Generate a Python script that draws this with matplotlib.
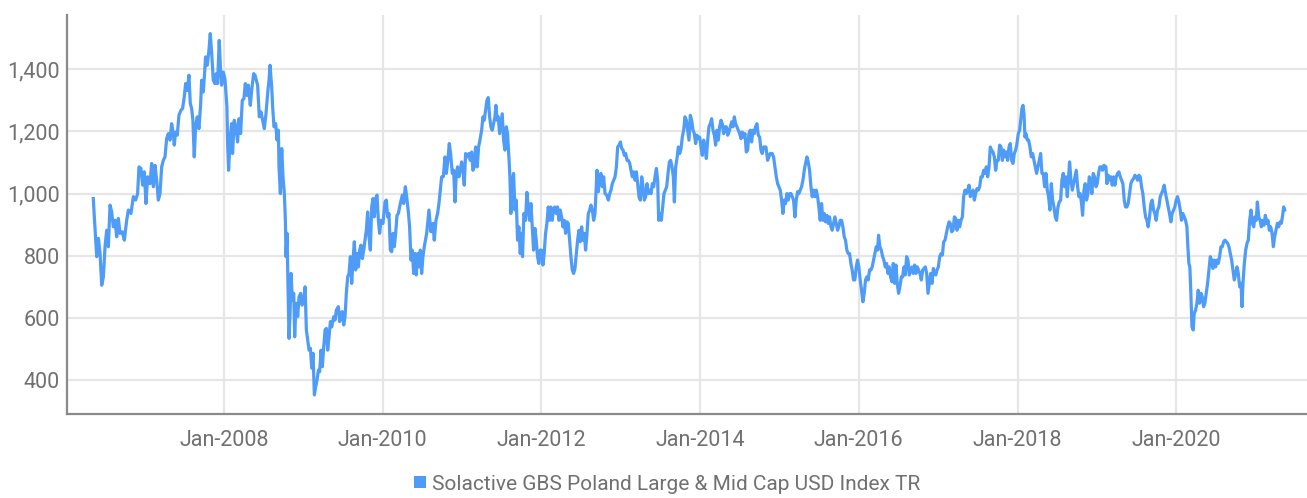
import datetime as dt
import matplotlib
matplotlib.use("Agg")
import matplotlib.pyplot as plt
import matplotlib.dates as mdates
from matplotlib.patches import Patch
from matplotlib.ticker import FuncFormatter, FixedLocator

plt.rcParams['font.family'] = ['Roboto', 'DejaVu Sans']

series_name = "Solactive GBS Poland Large & Mid Cap USD Index TR"

# decimal-year / value pairs, in segments
years_a = [2006.353, 2006.366, 2006.396, 2006.417, 2006.438, 2006.459, 2006.480, 2006.501, 2006.522, 2006.543,
           2006.564, 2006.585, 2006.606, 2006.627, 2006.648, 2006.669, 2006.690, 2006.719, 2006.744, 2006.774,
           2006.795, 2006.828, 2006.858, 2006.887, 2006.912, 2006.929, 2006.954, 2006.975, 2006.996, 2007.017,
           2007.038, 2007.068, 2007.089, 2007.110, 2007.131, 2007.152, 2007.173, 2007.194, 2007.215, 2007.236,
           2007.257, 2007.278, 2007.299, 2007.320, 2007.341, 2007.362, 2007.374, 2007.391, 2007.412, 2007.433,
           2007.458, 2007.479, 2007.500, 2007.517, 2007.538, 2007.559, 2007.576, 2007.593, 2007.609, 2007.626,
           2007.643, 2007.664, 2007.685, 2007.706, 2007.719, 2007.740, 2007.752, 2007.769, 2007.790, 2007.811,
           2007.828, 2007.845, 2007.866, 2007.887, 2007.903, 2007.920, 2007.941, 2007.958, 2007.971, 2007.992,
           2008.013, 2008.038, 2008.046, 2008.059, 2008.080, 2008.097, 2008.109, 2008.130, 2008.151, 2008.172,
           2008.189, 2008.210, 2008.231, 2008.252, 2008.269, 2008.290, 2008.307, 2008.332, 2008.349, 2008.374]
values_a = [984, 925, 797, 856, 807, 705, 732, 829, 882, 829,
            963, 941, 893, 914, 861, 920, 872, 877, 850, 914,
            947, 936, 990, 979, 1000, 1086, 1081, 1027, 1070, 968,
            1054, 1032, 1097, 1022, 1091, 1043, 979, 1000, 1086, 1107,
            1118, 1177, 1193, 1172, 1225, 1193, 1156, 1198, 1188, 1252,
            1268, 1274, 1311, 1354, 1332, 1381, 1290, 1274, 1236, 1118,
            1215, 1247, 1209, 1284, 1365, 1327, 1370, 1440, 1413, 1461,
            1515, 1456, 1365, 1354, 1386, 1354, 1493, 1397, 1349, 1391,
            1370, 1279, 1166, 1075, 1182, 1225, 1129, 1236, 1215, 1166,
            1241, 1193, 1300, 1306, 1354, 1316, 1349, 1284, 1332, 1386]

years_b = [2008.391, 2008.424, 2008.445, 2008.466, 2008.487, 2008.508, 2008.529, 2008.550, 2008.567, 2008.580,
           2008.601, 2008.613, 2008.630, 2008.651, 2008.668, 2008.685, 2008.693, 2008.710, 2008.727, 2008.743,
           2008.760, 2008.773, 2008.781, 2008.794, 2008.806, 2008.819, 2008.832, 2008.844, 2008.861, 2008.878,
           2008.890, 2008.907, 2008.928, 2008.945, 2008.966, 2008.983, 2009.004, 2009.021, 2009.037, 2009.054,
           2009.071, 2009.088, 2009.105, 2009.121, 2009.138, 2009.155, 2009.172, 2009.189, 2009.205, 2009.222,
           2009.239, 2009.256, 2009.273, 2009.289, 2009.306, 2009.323, 2009.340, 2009.357, 2009.382, 2009.399,
           2009.415, 2009.441, 2009.457, 2009.474, 2009.491, 2009.508, 2009.525, 2009.541, 2009.558, 2009.575,
           2009.592, 2009.609, 2009.625, 2009.642, 2009.659, 2009.676, 2009.693, 2009.709, 2009.726, 2009.743,
           2009.760, 2009.777, 2009.793, 2009.810, 2009.827, 2009.844, 2009.861, 2009.877, 2009.894, 2009.911,
           2009.928, 2009.945, 2009.961, 2009.978, 2010.003, 2010.029, 2010.045, 2010.062, 2010.079, 2010.096,
           2010.113, 2010.129, 2010.146, 2010.163, 2010.180, 2010.197, 2010.222, 2010.247, 2010.264, 2010.285,
           2010.302, 2010.323, 2010.339, 2010.356, 2010.373, 2010.390, 2010.407, 2010.423, 2010.440, 2010.457,
           2010.474, 2010.491, 2010.507, 2010.524]
values_b = [1381, 1349, 1247, 1263, 1236, 1209, 1257, 1322, 1365, 1413,
            1343, 1279, 1215, 1225, 1172, 1204, 1086, 1000, 1145, 1054,
            1000, 914, 797, 872, 700, 534, 614, 743, 657, 679,
            539, 647, 604, 668, 679, 641, 657, 700, 561, 529,
            496, 502, 438, 486, 352, 379, 400, 432, 427, 496,
            443, 507, 561, 566, 496, 539, 588, 571, 604, 593,
            625, 636, 588, 614, 620, 577, 604, 679, 732, 743,
            797, 711, 786, 845, 754, 807, 764, 818, 834, 791,
            818, 850, 882, 941, 861, 818, 957, 984, 925, 984,
            995, 914, 872, 914, 904, 973, 979, 925, 936, 818,
            813, 872, 829, 872, 930, 936, 968, 995, 968, 1022,
            990, 941, 893, 786, 818, 743, 807, 738, 807, 764,
            818, 743, 797, 829]

years_c = [2010.554, 2010.583, 2010.608, 2010.634, 2010.650, 2010.671, 2010.692, 2010.709, 2010.726, 2010.743,
           2010.764, 2010.785, 2010.802, 2010.818, 2010.839, 2010.856, 2010.877, 2010.894, 2010.911, 2010.928,
           2010.944, 2010.961, 2010.978, 2010.995, 2011.012, 2011.028, 2011.045, 2011.066, 2011.087, 2011.104,
           2011.121, 2011.138, 2011.154, 2011.171, 2011.192, 2011.209, 2011.226, 2011.247, 2011.264, 2011.280,
           2011.297, 2011.314, 2011.331, 2011.348, 2011.364, 2011.381, 2011.398, 2011.415, 2011.427, 2011.444,
           2011.457, 2011.474, 2011.490, 2011.507, 2011.524, 2011.541, 2011.558, 2011.574, 2011.591, 2011.604,
           2011.616, 2011.633, 2011.650, 2011.667, 2011.684, 2011.700, 2011.717, 2011.734, 2011.751, 2011.763,
           2011.780, 2011.801, 2011.818, 2011.835, 2011.852, 2011.869, 2011.885, 2011.902, 2011.919, 2011.936,
           2011.952, 2011.969, 2011.986, 2012.003, 2012.020, 2012.036, 2012.053, 2012.070, 2012.087, 2012.104,
           2012.120, 2012.137, 2012.154, 2012.171, 2012.188, 2012.204, 2012.221, 2012.238, 2012.255, 2012.272,
           2012.288, 2012.305, 2012.322, 2012.339, 2012.356, 2012.372, 2012.389, 2012.406, 2012.423, 2012.440,
           2012.456, 2012.473, 2012.490, 2012.507, 2012.524, 2012.540, 2012.557, 2012.574, 2012.591, 2012.608,
           2012.624, 2012.641, 2012.658]
values_c = [872, 947, 877, 904, 850, 914, 936, 968, 1011, 1054,
            1054, 1118, 1065, 1097, 1161, 1129, 1065, 1075, 973, 1065,
            1086, 1054, 1075, 1102, 1075, 1027, 1129, 1118, 1129, 1107,
            1134, 1075, 1086, 1150, 1086, 1150, 1172, 1204, 1247, 1236,
            1268, 1300, 1309, 1247, 1215, 1204, 1225, 1247, 1284, 1236,
            1247, 1193, 1225, 1257, 1172, 1140, 1215, 1193, 1118, 1054,
            936, 1032, 1065, 947, 979, 850, 893, 807, 872, 797,
            936, 914, 1004, 957, 914, 968, 893, 818, 888, 850,
            797, 775, 818, 818, 770, 807, 872, 904, 957, 914,
            957, 914, 952, 957, 936, 957, 914, 947, 925, 893,
            914, 872, 909, 904, 850, 797, 754, 743, 759, 807,
            850, 882, 845, 893, 850, 872, 818, 872, 936, 947,
            963, 947, 914]

years_d = [2012.675, 2012.700, 2012.717, 2012.734, 2012.750, 2012.767, 2012.784, 2012.801, 2012.822, 2012.843,
           2012.860, 2012.876, 2012.893, 2012.910, 2012.927, 2012.944, 2012.960, 2012.977, 2012.994, 2013.011,
           2013.028, 2013.044, 2013.061, 2013.078, 2013.095, 2013.112, 2013.128, 2013.145, 2013.162, 2013.179,
           2013.196, 2013.212, 2013.229, 2013.246, 2013.263, 2013.280, 2013.296, 2013.313, 2013.330, 2013.347,
           2013.364, 2013.380, 2013.397, 2013.414, 2013.431, 2013.448, 2013.464, 2013.477, 2013.494, 2013.511,
           2013.528, 2013.544, 2013.561, 2013.578, 2013.595, 2013.612, 2013.628, 2013.645, 2013.662, 2013.675,
           2013.691, 2013.708, 2013.725, 2013.742, 2013.759, 2013.775, 2013.792, 2013.809, 2013.826, 2013.843,
           2013.859, 2013.876, 2013.893, 2013.910, 2013.927, 2013.943, 2013.960, 2013.977, 2013.994, 2014.011,
           2014.027, 2014.044, 2014.061, 2014.078, 2014.095, 2014.111, 2014.128, 2014.145, 2014.162, 2014.179,
           2014.195, 2014.212, 2014.229, 2014.246, 2014.263, 2014.279, 2014.296, 2014.313, 2014.330, 2014.347,
           2014.363, 2014.380, 2014.397, 2014.414, 2014.431, 2014.447, 2014.464, 2014.481, 2014.498, 2014.515,
           2014.531, 2014.548, 2014.565, 2014.582, 2014.599, 2014.615, 2014.632, 2014.649, 2014.666, 2014.683,
           2014.699, 2014.716, 2014.733, 2014.750, 2014.767, 2014.783, 2014.800]
values_d = [936, 1075, 1006, 1054, 1065, 1022, 1054, 1000, 995, 979,
            1000, 1011, 1032, 1043, 1054, 1086, 1150, 1156, 1166, 1145,
            1140, 1123, 1129, 1107, 1107, 1097, 1075, 1054, 1070, 1043,
            1070, 1032, 990, 979, 1054, 1022, 979, 990, 1032, 1000,
            1011, 1000, 1032, 1022, 1054, 1081, 1043, 914, 936, 914,
            957, 1000, 1011, 1022, 1065, 1102, 1107, 1086, 1054, 973,
            1086, 1113, 1150, 1129, 1145, 1182, 1204, 1247, 1236, 1204,
            1172, 1252, 1236, 1204, 1193, 1161, 1188, 1177, 1182, 1150,
            1123, 1172, 1150, 1113, 1172, 1215, 1225, 1241, 1204, 1188,
            1156, 1204, 1172, 1215, 1236, 1225, 1193, 1215, 1215, 1188,
            1198, 1215, 1231, 1215, 1247, 1225, 1215, 1204, 1193, 1177,
            1198, 1182, 1193, 1134, 1140, 1193, 1204, 1166, 1204, 1193,
            1215, 1225, 1188, 1182, 1140, 1129, 1150]

years_e = [2014.830, 2014.851, 2014.867, 2014.884, 2014.909, 2014.926, 2014.943, 2014.960, 2014.977, 2014.993,
           2015.010, 2015.027, 2015.044, 2015.061, 2015.077, 2015.094, 2015.111, 2015.128, 2015.145, 2015.161,
           2015.178, 2015.195, 2015.212, 2015.229, 2015.245, 2015.262, 2015.279, 2015.296, 2015.313, 2015.329,
           2015.346, 2015.363, 2015.380, 2015.397, 2015.413, 2015.430, 2015.447, 2015.464, 2015.481, 2015.497,
           2015.514, 2015.531, 2015.548, 2015.565, 2015.581, 2015.598, 2015.615, 2015.632, 2015.649, 2015.665,
           2015.682, 2015.699, 2015.716, 2015.733, 2015.749, 2015.766, 2015.783, 2015.800, 2015.817, 2015.833,
           2015.850, 2015.867, 2015.884, 2015.901, 2015.917, 2015.934, 2015.951, 2015.968, 2015.985, 2016.001,
           2016.018, 2016.035, 2016.052, 2016.069, 2016.085, 2016.102, 2016.119, 2016.136, 2016.153, 2016.169,
           2016.186, 2016.203, 2016.220, 2016.237, 2016.249, 2016.266, 2016.283, 2016.300, 2016.316, 2016.333,
           2016.350, 2016.367, 2016.384, 2016.400, 2016.417, 2016.434, 2016.451, 2016.468, 2016.484, 2016.501,
           2016.518, 2016.535, 2016.552, 2016.568, 2016.585, 2016.602, 2016.619, 2016.636, 2016.652, 2016.669,
           2016.686, 2016.703, 2016.720, 2016.736, 2016.753, 2016.770, 2016.787, 2016.804, 2016.820, 2016.837,
           2016.854, 2016.871, 2016.888, 2016.904, 2016.921, 2016.938, 2016.955]
values_e = [1150, 1107, 1118, 1129, 1129, 1118, 1086, 1054, 1032, 1022,
            1011, 979, 936, 979, 968, 1000, 979, 1000, 1000, 990,
            979, 925, 979, 1006, 1000, 1011, 1022, 1043, 1075, 1097,
            1118, 1102, 1075, 1022, 990, 1011, 990, 1011, 990, 957,
            914, 968, 914, 936, 909, 930, 904, 925, 893, 882,
            904, 925, 904, 882, 893, 914, 914, 893, 861, 850,
            818, 807, 807, 775, 754, 722, 722, 764, 786, 764,
            722, 689, 652, 679, 722, 732, 722, 754, 754, 764,
            786, 807, 829, 818, 866, 829, 818, 797, 786, 764,
            775, 743, 764, 732, 716, 775, 711, 770, 711, 679,
            700, 732, 732, 764, 738, 797, 786, 738, 754, 764,
            743, 770, 743, 764, 754, 743, 722, 754, 759, 764,
            743, 679, 711, 743, 711, 759, 743]

years_f = [2016.968, 2016.984, 2017.001, 2017.018, 2017.035, 2017.052, 2017.068, 2017.085, 2017.102, 2017.119,
           2017.136, 2017.152, 2017.169, 2017.186, 2017.203, 2017.220, 2017.236, 2017.253, 2017.270, 2017.287,
           2017.304, 2017.320, 2017.337, 2017.354, 2017.371, 2017.388, 2017.404, 2017.421, 2017.438, 2017.455,
           2017.472, 2017.488, 2017.505, 2017.522, 2017.539, 2017.556, 2017.572, 2017.589, 2017.606, 2017.623,
           2017.640, 2017.656, 2017.673, 2017.690, 2017.707, 2017.724, 2017.740, 2017.757, 2017.774, 2017.791,
           2017.808, 2017.824, 2017.841, 2017.858, 2017.875, 2017.892, 2017.908, 2017.925, 2017.942, 2017.959,
           2017.976, 2017.992, 2018.009, 2018.026, 2018.043, 2018.055, 2018.068, 2018.081, 2018.093, 2018.106,
           2018.123, 2018.139, 2018.156, 2018.173, 2018.190, 2018.207, 2018.223, 2018.240, 2018.257, 2018.274,
           2018.291, 2018.307, 2018.324, 2018.341, 2018.358, 2018.375, 2018.391, 2018.408, 2018.425, 2018.442,
           2018.459, 2018.475, 2018.492, 2018.509, 2018.526, 2018.543, 2018.559, 2018.576, 2018.593, 2018.610,
           2018.627, 2018.643, 2018.656, 2018.673, 2018.690, 2018.706, 2018.723, 2018.740, 2018.757, 2018.774,
           2018.790, 2018.807, 2018.820, 2018.837, 2018.853, 2018.870, 2018.887, 2018.904, 2018.921, 2018.937,
           2018.954, 2018.971, 2018.988, 2019.005, 2019.021, 2019.038, 2019.055, 2019.072, 2019.089]
values_f = [738, 754, 764, 797, 807, 802, 845, 850, 872, 893,
            909, 904, 877, 882, 925, 920, 882, 914, 893, 914,
            925, 990, 1011, 1000, 1011, 1027, 990, 1000, 1011, 979,
            1000, 1016, 1011, 1022, 1054, 1054, 1075, 1065, 1086, 1054,
            1086, 1150, 1140, 1134, 1118, 1075, 1107, 1107, 1156, 1150,
            1107, 1140, 1118, 1134, 1107, 1150, 1161, 1107, 1097, 1129,
            1140, 1161, 1193, 1204, 1247, 1274, 1284, 1257, 1182, 1193,
            1172, 1172, 1150, 1118, 1129, 1107, 1086, 1065, 1086, 1107,
            1129, 1065, 1065, 1022, 1065, 1011, 990, 947, 1032, 979,
            957, 925, 914, 957, 973, 979, 1043, 1065, 1022, 1054,
            990, 1054, 1102, 1043, 1011, 1032, 1054, 1075, 1022, 990,
            1000, 968, 930, 1011, 1032, 979, 1000, 1054, 1043, 1000,
            1065, 1054, 1022, 1032, 1065, 1086, 1086, 1075, 1091]

years_g = [2019.114, 2019.127, 2019.143, 2019.160, 2019.177, 2019.194, 2019.211, 2019.227, 2019.244, 2019.261,
           2019.278, 2019.295, 2019.311, 2019.328, 2019.345, 2019.362, 2019.379, 2019.395, 2019.412, 2019.429,
           2019.446, 2019.463, 2019.479, 2019.496, 2019.513, 2019.530, 2019.547, 2019.563, 2019.580, 2019.597,
           2019.614, 2019.631, 2019.647, 2019.664, 2019.681, 2019.698, 2019.715, 2019.731, 2019.748, 2019.765,
           2019.782, 2019.799, 2019.815, 2019.832, 2019.849, 2019.866, 2019.883, 2019.899, 2019.916, 2019.933,
           2019.950, 2019.967, 2019.983, 2020.000, 2020.017, 2020.034, 2020.051, 2020.067, 2020.084, 2020.101,
           2020.118, 2020.135, 2020.147, 2020.160, 2020.172, 2020.185, 2020.198, 2020.214, 2020.227, 2020.244,
           2020.261, 2020.277, 2020.294, 2020.311, 2020.328, 2020.345, 2020.361, 2020.378, 2020.395, 2020.412,
           2020.429, 2020.445, 2020.462, 2020.479, 2020.496, 2020.513, 2020.529, 2020.546, 2020.563, 2020.580,
           2020.597, 2020.613, 2020.630, 2020.647, 2020.664, 2020.681, 2020.697, 2020.714, 2020.731, 2020.748,
           2020.765, 2020.781, 2020.798, 2020.815, 2020.828, 2020.840, 2020.857, 2020.874, 2020.891, 2020.907,
           2020.924, 2020.941, 2020.958, 2020.975, 2020.991, 2021.008, 2021.021, 2021.038, 2021.055, 2021.071,
           2021.088, 2021.105, 2021.122, 2021.139, 2021.155, 2021.172, 2021.189, 2021.206, 2021.223, 2021.239,
           2021.256, 2021.273, 2021.290, 2021.307, 2021.323, 2021.340, 2021.353, 2021.365]
values_g = [1086, 1032, 1059, 1043, 1054, 1027, 1054, 1027, 1054, 1065,
            1070, 1054, 1043, 1032, 979, 957, 957, 968, 1000, 1032,
            1043, 1048, 1059, 1054, 1043, 1059, 1054, 1022, 1000, 957,
            925, 914, 893, 925, 968, 979, 947, 936, 914, 947,
            957, 990, 1000, 1011, 1027, 1000, 979, 957, 936, 909,
            936, 947, 957, 979, 990, 973, 947, 914, 936, 925,
            914, 893, 829, 775, 764, 679, 571, 561, 614, 625,
            647, 689, 647, 679, 668, 636, 647, 679, 711, 754,
            797, 786, 759, 786, 764, 786, 775, 797, 829, 829,
            845, 850, 845, 840, 829, 807, 786, 754, 722, 743,
            764, 743, 700, 711, 636, 711, 775, 818, 840, 850,
            914, 947, 904, 893, 925, 914, 973, 925, 914, 893,
            914, 898, 930, 904, 914, 882, 893, 872, 829, 861,
            882, 904, 893, 909, 904, 930, 957, 947]

tick_years = [2008, 2010, 2012, 2014, 2016, 2018, 2020]
y_ticks = [400, 600, 800, 1000, 1200, 1400]


def to_date(y):
    yr = int(y)
    start = dt.datetime(yr, 1, 1)
    end = dt.datetime(yr + 1, 1, 1)
    return start + (end - start) * (y - yr)


years = years_a + years_b + years_c + years_d + years_e + years_f + years_g
values = values_a + values_b + values_c + values_d + values_e + values_f + values_g
dates = [to_date(y) for y in years]

fig = plt.figure(figsize=(13.07, 4.98), dpi=100)
ax = fig.add_axes([0.0513, 0.1677, 0.9487, 0.8023])

line_color = "#4e9cf7"
text_color = "#707070"

ax.plot(dates, values, color=line_color, lw=2.3, solid_joinstyle='round', zorder=3)

ax.set_xlim(to_date(2006.022), to_date(2021.647))
ax.set_ylim(289, 1575)

ax.xaxis.set_major_locator(FixedLocator([mdates.date2num(dt.datetime(y, 1, 1)) for y in tick_years]))
ax.xaxis.set_major_formatter(mdates.DateFormatter("%b-%Y"))
ax.set_yticks(y_ticks)
ax.yaxis.set_major_formatter(FuncFormatter(lambda v, p: f"{int(v):,}"))

ax.grid(True, color="#e6e6e6", lw=1.6)
ax.set_axisbelow(True)
for s in ['top', 'right']:
    ax.spines[s].set_visible(False)
for s in ['left', 'bottom']:
    ax.spines[s].set_color("#8a8a8a")
    ax.spines[s].set_linewidth(1.6)

ax.tick_params(axis='x', length=0, pad=11, labelsize=15.5, labelcolor=text_color)
ax.tick_params(axis='y', length=0, pad=5, labelsize=15.5, labelcolor=text_color)

handle = Patch(facecolor=line_color, edgecolor='none')
fig.legend([handle], [series_name], loc='center', bbox_to_anchor=(0.5104, 0.028),
           frameon=False, fontsize=15.0, labelcolor=text_color,
           handlelength=0.55, handleheight=0.55, handletextpad=0.3, borderaxespad=0)

fig.savefig("out.png", dpi=100)
